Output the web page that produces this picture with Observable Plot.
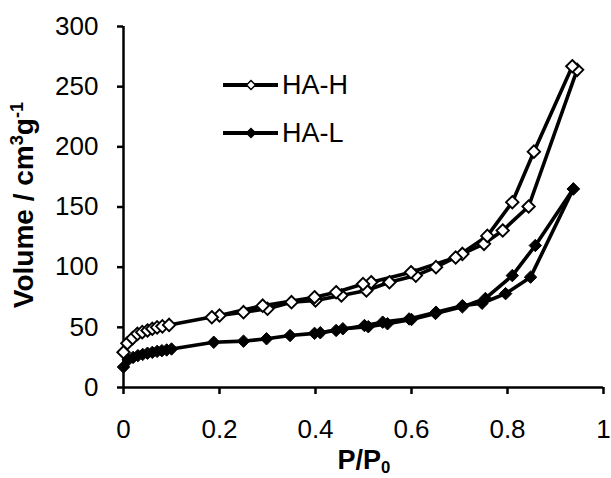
<!DOCTYPE html>
<html><head><meta charset="utf-8">
<script src="https://cdn.jsdelivr.net/npm/d3@7"></script>
<script src="https://cdn.jsdelivr.net/npm/@observablehq/plot@0.6"></script>
<style>
body{margin:0;background:#fff;font-family:"Liberation Sans",Arial,sans-serif}
#wrap{position:relative;width:611px;height:478px;overflow:hidden}
.lab{position:absolute;color:#000;white-space:nowrap;font-family:"Liberation Sans",Arial,sans-serif}
</style></head><body><div id="wrap"></div>
<script>
// ---- data ----
const seriesNames = ["HA-H", "HA-L"];

const hAdsP = [0.0, 0.008, 0.019, 0.029, 0.039, 0.05, 0.06, 0.07, 0.081, 0.095, 0.2, 0.25, 0.30, 0.35, 0.40, 0.454, 0.506, 0.554, 0.609, 0.651, 0.706, 0.751, 0.79, 0.844, 0.945];
const hAdsV = [29.3, 36.8, 41, 44.6, 46, 47.4, 48.8, 50, 50.8, 52, 59.8, 62.6, 65.4, 70.9, 72.3, 76.5, 80.6, 87.5, 93, 100, 111, 119.4, 130.5, 150.4, 264];
const hDesP = [0.935, 0.855, 0.81, 0.758, 0.692, 0.599, 0.516, 0.499, 0.443, 0.398, 0.29, 0.184];
const hDesV = [267, 196, 154, 126, 108, 95.8, 87.5, 86, 79.2, 75, 68, 58.4];

const lAdsP = [0, 0.01, 0.02, 0.03, 0.04, 0.05, 0.06, 0.07, 0.08, 0.09, 0.1, 0.188, 0.25, 0.298, 0.347, 0.398, 0.443, 0.502, 0.54, 0.595, 0.651, 0.706, 0.747, 0.796, 0.848, 0.937];
const lAdsV = [17, 23, 25, 26.5, 27.5, 28.5, 29.2, 30, 30.6, 31.2, 32, 37.6, 38.5, 40.5, 43.2, 45, 47.4, 51.5, 54.3, 57, 62.6, 68, 70, 78, 91.7, 165];
const lDesP = [0.937, 0.858, 0.81, 0.754, 0.706, 0.65, 0.6, 0.55, 0.51, 0.457, 0.41];
const lDesV = [165, 118, 93, 74, 67, 61.5, 56.5, 53, 50.5, 48.8, 45.5];

const xTicks = [0, 0.2, 0.4, 0.6, 0.8, 1];
const xTickLabels = ["0", "0.2", "0.4", "0.6", "0.8", "1"];
const yTicks = [0, 50, 100, 150, 200, 250, 300];
const yTickLabels = ["0", "50", "100", "150", "200", "250", "300"];

// ---- build table ----
function branch(P, V, series, branchName) {
  return P.map((p, i) => ({p, v: V[i], series, key: series + "-" + branchName}));
}
const hRows = [...branch(hAdsP, hAdsV, "HA-H", "ads"), ...branch(hDesP, hDesV, "HA-H", "des")];
const lRows = [...branch(lAdsP, lAdsV, "HA-L", "ads"), ...branch(lDesP, lDesV, "HA-L", "des")];

const chart = Plot.plot({
  width: 611, height: 478,
  marginLeft: 123, marginRight: 8, marginTop: 26, marginBottom: 91,
  style: {fontFamily: "Liberation Sans, Arial, sans-serif", fontSize: "26px", color: "#000", background: "#fff", overflow: "visible"},
  x: {domain: [0, 1]},
  y: {domain: [0, 300]},
  marks: [
    Plot.axisX({ticks: xTicks, tickFormat: (d, i) => xTickLabels[i], tickSize: 7, tickPadding: 25, strokeWidth: 2.5, label: null, fontSize: 26}),
    Plot.axisY({ticks: yTicks, tickFormat: (d, i) => yTickLabels[i], tickSize: 6, tickPadding: 19, strokeWidth: 2.5, label: null, fontSize: 26}),
    Plot.ruleX([0], {stroke: "#000", strokeWidth: 2.5}),
    Plot.ruleY([0], {stroke: "#000", strokeWidth: 2.5}),
    Plot.line(lRows, {x: "p", y: "v", z: "key", stroke: "#000", strokeWidth: 3.6, curve: "linear"}),
    Plot.dot(lRows, {x: "p", y: "v", symbol: "diamond2", r: 5.6, fill: "#000", stroke: "#000", strokeWidth: 1}),
    Plot.line(hRows, {x: "p", y: "v", z: "key", stroke: "#000", strokeWidth: 3.6, curve: "linear"}),
    Plot.dot(hRows, {x: "p", y: "v", symbol: "diamond2", r: 5.6, fill: "#fff", stroke: "#000", strokeWidth: 1.9})
  ]
});
const wrap = document.getElementById("wrap");
chart.style.position = "absolute";
chart.style.left = "0px";
chart.style.top = "0px";
wrap.appendChild(chart);

// axis titles
const yt = document.createElement("div");
yt.className = "lab";
yt.style.cssText += "font-weight:bold;font-size:28px;left:23px;top:205px;transform:translate(-50%,-50%) rotate(-90deg);line-height:1;";
yt.innerHTML = "Volume / cm<sup style='font-size:0.65em;vertical-align:0.55em'>3</sup>g<sup style='font-size:0.65em;vertical-align:0.55em'>-1</sup>";
wrap.appendChild(yt);

const xt = document.createElement("div");
xt.className = "lab";
xt.style.cssText += "font-weight:bold;font-size:27px;left:364px;top:447px;transform:translateX(-50%);line-height:1;";
xt.innerHTML = "P/P<sub style='font-size:0.62em;vertical-align:-0.22em'>0</sub>";
wrap.appendChild(xt);

// legend
const legendY = [85, 133];
const legendFill = ["#fff", "#000"];
seriesNames.forEach((name, i) => {
  const s = d3.create("svg").attr("width", 60).attr("height", 16)
    .style("position", "absolute").style("left", "221px").style("top", (legendY[i] - 8) + "px");
  s.append("line").attr("x1", 2).attr("x2", 57).attr("y1", 8).attr("y2", 8).attr("stroke", "#000").attr("stroke-width", 4);
  s.append("path").attr("d", "M30,3.5L34.5,8L30,12.5L25.5,8Z").attr("fill", legendFill[i]).attr("stroke", "#000").attr("stroke-width", 1.5);
  wrap.appendChild(s.node());
  const t = document.createElement("div");
  t.className = "lab";
  t.style.cssText += `font-size:27px;left:282px;top:${legendY[i]}px;transform:translateY(-50%);line-height:1;`;
  t.textContent = name;
  wrap.appendChild(t);
});
</script>
</body></html>
